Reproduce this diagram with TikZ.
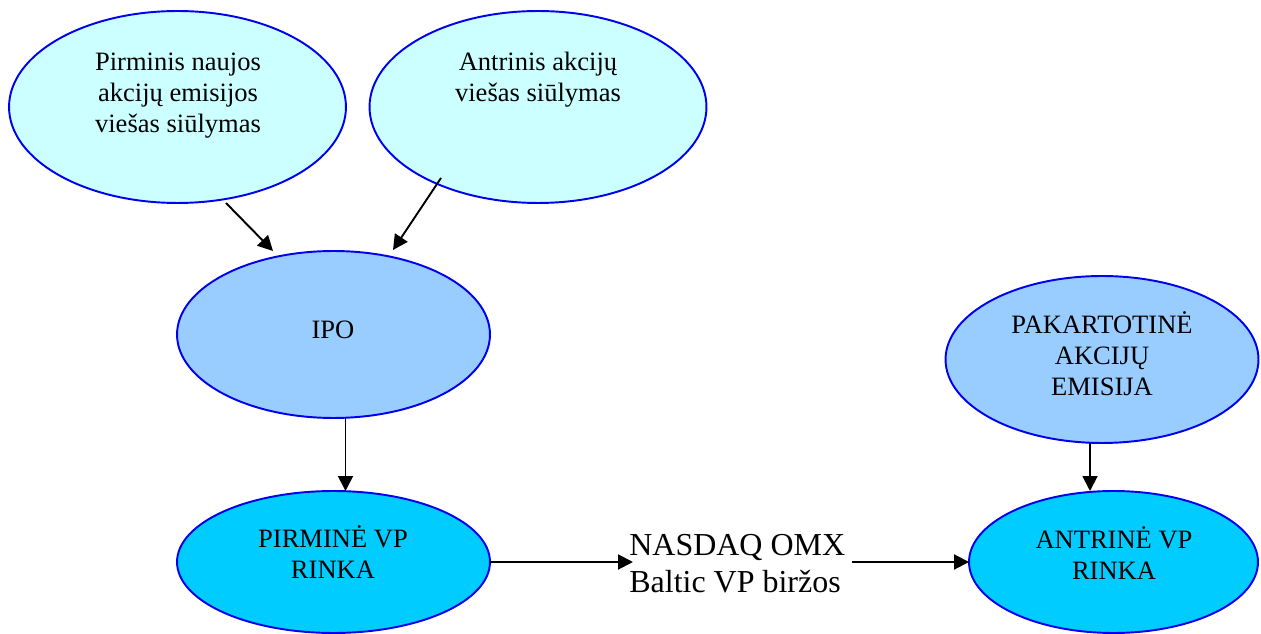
\documentclass[tikz,border=0pt]{standalone}
\usepackage{fontspec}
\setmainfont{Liberation Serif}
\usetikzlibrary{shapes.geometric,arrows.meta,calc}
\definecolor{paleCyan}{HTML}{CCFFFF}
\definecolor{skyBlue}{HTML}{99CCFF}
\definecolor{brightCyan}{HTML}{00CCFF}
\definecolor{rimBlue}{HTML}{0000EE}
\begin{document}
\begin{tikzpicture}[x=0.02cm,y=-0.02cm,
  oval/.style={ellipse,draw=rimBlue,line width=1.1pt,inner sep=0pt,outer sep=0pt},
  bigoval/.style={oval,minimum width=6.74cm,minimum height=3.84cm},
  midoval/.style={oval,minimum width=6.26cm,minimum height=3.34cm},
  lbl/.style={align=center,inner sep=0pt,font=\fontsize{15.1}{17.6}\selectfont},
  biglbl/.style={align=left,inner sep=0pt,font=\fontsize{18.2}{21}\selectfont},
  link/.style={line width=1.1pt,-{Triangle[length=0.3cm,width=0.3cm]}}]
\useasboundingbox (0,0) rectangle (1261,634);

% ellipses
\node[bigoval,fill=paleCyan] (e1) at (177.5,107) {};
\node[bigoval,fill=paleCyan] (e2) at (538,107) {};
\node[midoval,fill=skyBlue] (e3) at (333.5,334.5) {};
\node[midoval,fill=skyBlue] (e4) at (1102,359.5) {};
\node[oval,fill=brightCyan,minimum width=6.26cm,minimum height=2.84cm] (e5) at (333.5,562) {};
\node[oval,fill=brightCyan,minimum width=5.78cm,minimum height=2.84cm] (e6) at (1113.5,562) {};

% texts inside the ellipses
\node[lbl] (t1) at (178,96) {Pirminis naujos\\akcijų emisijos\\viešas siūlymas};
\node[lbl] (t2) at (538,80) {Antrinis akcijų\\viešas siūlymas};
\node[lbl] (t3) at (333,330) {IPO};
\node[lbl] (t4) at (1102,354) {PAKARTOTINĖ\\AKCIJŲ\\EMISIJA};
\node[lbl] (t5) at (333,552) {PIRMINĖ VP\\RINKA};
\node[lbl] (t6) at (1114,553) {ANTRINĖ VP\\RINKA};

% exchange label
\node[biglbl,anchor=west] (nx) at (629,563.5) {NASDAQ OMX\\Baltic VP biržos};

% connectors
\draw[link] ($(e1)+(48.5,96)$) -- ($(e3)+(-60.5,-83.5)$);
\draw[link] ($(e2)+(-97,71)$) -- ($(e3)+(59.5,-84.5)$);
\draw[link] ($(e3)+(12,83.5)$) -- ($(e5)+(12,-71)$);
\draw[link] (e5.east) -- ($(e5.east -| nx.west)+(4,0)$);
\draw[link] ($(e6.west -| nx.east)+(6,0)$) -- (e6.west);
\draw[link] ($(e4)+(-12,83.5)$) -- ($(e6)+(-23.5,-71)$);
\end{tikzpicture}
\end{document}
